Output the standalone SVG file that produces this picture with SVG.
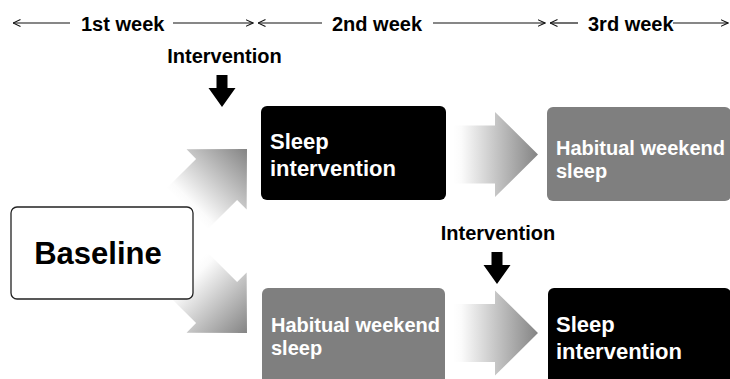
<svg xmlns="http://www.w3.org/2000/svg" width="730" height="379" viewBox="0 0 730 379">
<style>
text{font-family:"Liberation Sans",Arial,sans-serif;font-weight:bold}
.lbl{font-size:20px;fill:#000}
.wt{fill:#fff}
.t22{font-size:22px}
.t20{font-size:20px}
.tl{stroke:#111;stroke-width:1.2;fill:none}
.dn{fill:#000}
</style>
<defs>
<linearGradient id="fade" gradientUnits="userSpaceOnUse" x1="-85" y1="0" x2="0" y2="0">
<stop offset="0" stop-color="#ffffff"/>
<stop offset="0.1" stop-color="#fbfbfb"/>
<stop offset="1" stop-color="#848484"/>
</linearGradient>
<path id="blk" d="M0,0 L-43,-42.5 L-43,-29 L-85,-29 L-85,29 L-43,29 L-43,42.5 Z" fill="url(#fade)"/>
<marker id="oh" viewBox="0 0 8 8" markerWidth="8" markerHeight="8" refX="7.5" refY="4" orient="auto" markerUnits="userSpaceOnUse">
<path d="M0,0.5 L7.5,4 L0,7.5" fill="none" stroke="#111" stroke-width="1.1"/>
</marker>
<path id="down" d="M-5.5,0 L5.5,0 L5.5,13 L13.5,13 L0,32 L-13.5,13 L-5.5,13 Z"/>
</defs>

<g id="timeline">
<line class="tl" x1="70" y1="23" x2="13" y2="23" marker-end="url(#oh)"/>
<text class="lbl" x="81" y="31">1st week</text>
<line class="tl" x1="173" y1="23" x2="253" y2="23" marker-end="url(#oh)"/>
<line class="tl" x1="322" y1="23" x2="258" y2="23" marker-end="url(#oh)"/>
<text class="lbl" x="332" y="31">2nd week</text>
<line class="tl" x1="433" y1="23" x2="545" y2="23" marker-end="url(#oh)"/>
<line class="tl" x1="578" y1="23" x2="550" y2="23" marker-end="url(#oh)"/>
<text class="lbl" x="588" y="31">3rd week</text>
<line class="tl" x1="673" y1="23" x2="728" y2="23" marker-end="url(#oh)"/>
</g>

<g id="connectors">
<use href="#blk" transform="translate(247,149) rotate(-45)"/>
<use href="#blk" transform="translate(247,333) rotate(45)"/>
<use href="#blk" transform="translate(538,154.5)"/>
<use href="#blk" transform="translate(538,333)"/>
</g>

<g id="baseline">
<rect x="11" y="207" width="182" height="92" rx="6" fill="#fff" stroke="#222" stroke-width="1.3"/>
<text x="98" y="264" font-size="31" text-anchor="middle" fill="#000">Baseline</text>
</g>

<g id="intervention1">
<text class="lbl" x="224.5" y="63" text-anchor="middle">Intervention</text>
<use href="#down" class="dn" transform="translate(222,75)"/>
</g>

<g id="sleep-intervention-1">
<rect x="261" y="106" width="185" height="94" rx="6" fill="#000"/>
<text class="wt t22" x="270" y="149">Sleep</text>
<text class="wt t22" x="270" y="176">intervention</text>
</g>

<g id="habitual-1">
<rect x="547" y="107" width="184" height="94" rx="6" fill="#7f7f7f"/>
<text class="wt t20" x="556" y="155">Habitual weekend</text>
<text class="wt t20" x="556" y="178">sleep</text>
</g>

<g id="intervention2">
<text class="lbl" x="498" y="240" text-anchor="middle">Intervention</text>
<use href="#down" class="dn" transform="translate(497,252)"/>
</g>

<g id="habitual-2">
<rect x="262" y="288" width="183" height="100" rx="6" fill="#7f7f7f"/>
<text class="wt t20" x="271" y="332">Habitual weekend</text>
<text class="wt t20" x="271" y="355">sleep</text>
</g>

<g id="sleep-intervention-2">
<rect x="548" y="288" width="183" height="100" rx="6" fill="#000"/>
<text class="wt t22" x="556" y="332">Sleep</text>
<text class="wt t22" x="556" y="359">intervention</text>
</g>
</svg>
